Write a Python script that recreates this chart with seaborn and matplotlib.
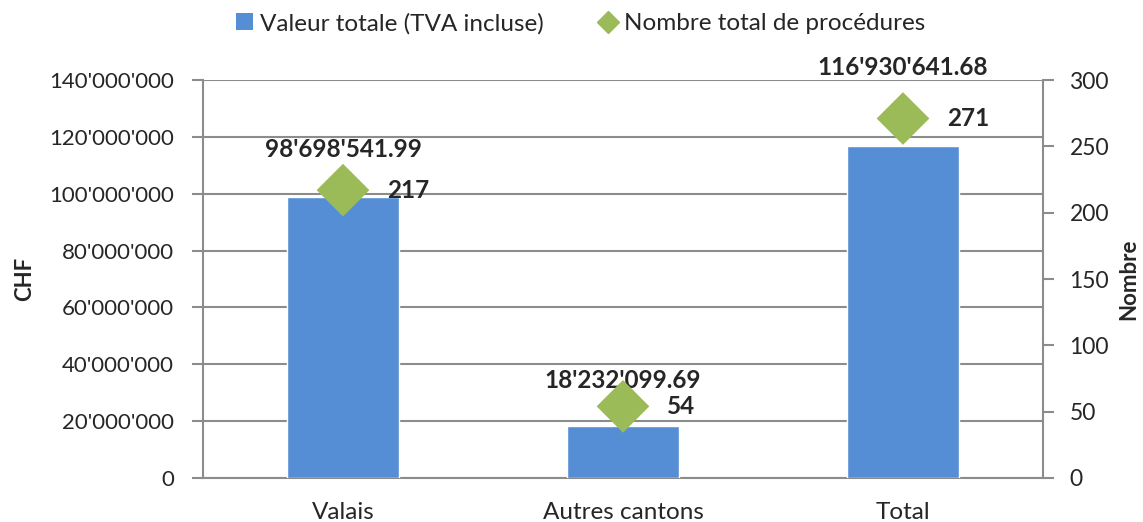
import numpy as np
import pandas as pd
import matplotlib
matplotlib.use("Agg")
import matplotlib.pyplot as plt
from matplotlib.lines import Line2D
from matplotlib.patches import Patch
from matplotlib.ticker import FuncFormatter, MultipleLocator
import seaborn as sns

# ---- data ----
categories = ["Valais", "Autres cantons", "Total"]
valeur_totale = [98698541.99, 18232099.69, 116930641.68]
nombre_procedures = [217, 54, 271]

bar_color = "#558ED5"
diamond_color = "#9BBB59"
grid_color = "#8C8C8C"

sns.set_theme(style="white")
plt.rcParams["font.family"] = ["Lato", "DejaVu Sans"]

df = pd.DataFrame({"cat": categories, "val": valeur_totale, "nb": nombre_procedures})
df["pos"] = np.arange(len(categories))

fig = plt.figure(figsize=(11.43, 5.22), dpi=100)
ax = fig.add_axes([0.1776, 0.0843, 0.7349, 0.7624])

sns.barplot(data=df, x="cat", y="val", color=bar_color, width=0.4,
            saturation=1, ax=ax, zorder=3)
ax.set_xlim(-0.5, 2.5)
ax.set_ylim(0, 140_000_000)
ax.yaxis.set_major_locator(MultipleLocator(20_000_000))


def swiss(x, pos=None):
    return f"{int(round(x)):,}".replace(",", "'")


ax.yaxis.set_major_formatter(FuncFormatter(swiss))
ax.grid(axis="y", color=grid_color, linewidth=1.5, zorder=0)
ax.set_axisbelow(True)
ax.set_xlabel("")
ax.set_ylabel("CHF", fontsize=16, fontweight="bold", labelpad=10)
ax.tick_params(axis="y", labelsize=16, length=8, width=1.5, color=grid_color,
               direction="out", left=True, pad=13)
ax.tick_params(axis="x", labelsize=17.5, length=0, pad=17)
for side in ["top", "right"]:
    ax.spines[side].set_visible(False)
for side in ["left", "bottom"]:
    ax.spines[side].set_color(grid_color)
    ax.spines[side].set_linewidth(1.5)

# bar value labels
bar_offsets = [48, 46, 78]
for i, v in enumerate(valeur_totale):
    lab = f"{v:,.2f}".replace(",", "'")
    ax.annotate(lab, (i, v), xytext=(0, bar_offsets[i]), textcoords="offset pixels",
                ha="center", va="center", fontsize=17.5, fontweight="bold",
                annotation_clip=False)

ax2 = ax.twinx()
sns.scatterplot(data=df, x="pos", y="nb", marker="D", s=720, color=diamond_color,
                edgecolor="none", ax=ax2, zorder=4, legend=False)
ax2.set_xlim(-0.5, 2.5)
ax2.set_ylim(0, 300)
ax2.yaxis.set_major_locator(MultipleLocator(50))
ax2.set_ylabel("Nombre", fontsize=16, fontweight="bold", labelpad=7)
ax2.tick_params(axis="y", labelsize=16.5, length=8, width=1.5, color=grid_color,
                direction="out", right=True, pad=11)
for side in ["top", "left", "bottom"]:
    ax2.spines[side].set_visible(False)
ax2.spines["right"].set_color(grid_color)
ax2.spines["right"].set_linewidth(1.5)

for i, n in enumerate(nombre_procedures):
    ax2.annotate(str(n), (i, n), xytext=(44, 0), textcoords="offset pixels",
                 ha="left", va="center", fontsize=17.5, fontweight="bold")

handles = [
    Patch(facecolor=bar_color, edgecolor="none", label="Valeur totale (TVA incluse)"),
    Line2D([], [], marker="D", linestyle="none", color=diamond_color, markersize=11,
           label="Nombre total de procédures"),
]
fig.legend(handles=handles, loc="center", bbox_to_anchor=(0.508, 0.955), ncol=2,
           frameon=False, fontsize=17.5, handlelength=0.7, handletextpad=0.3,
           columnspacing=2.3)

fig.savefig("out.png", dpi=100)
